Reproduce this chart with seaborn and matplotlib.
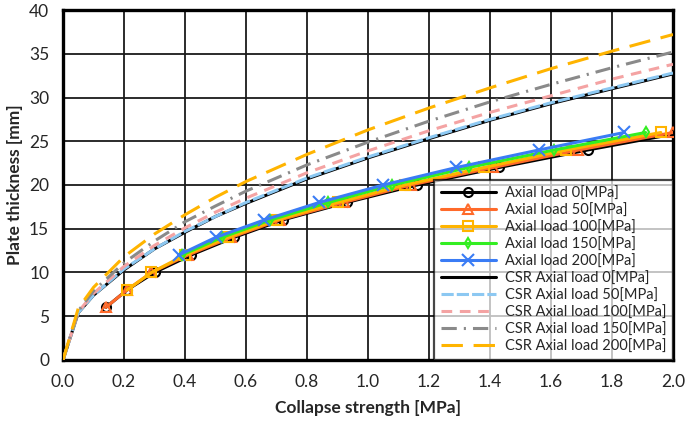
import seaborn as sns
import matplotlib.pyplot as plt
import pandas as pd

# Data ----------------------------

thickness = [6, 8, 10, 12, 14, 16, 18, 20, 22, 24, 26]
strength_0 = [0.14, 0.21, 0.30, 0.42, 0.56, 0.72, 0.93, 1.16, 1.43, 1.72, 2.03]
strength_50 = [0.14, 0.21, 0.29, 0.41, 0.55, 0.71, 0.92, 1.14, 1.41, 1.69, 2.00]
strength_100 = [0.14, 0.21, 0.29, 0.40, 0.54, 0.70, 0.90, 1.12, 1.38, 1.65, 1.96]
strength_150 = [0.13, 0.20, 0.28, 0.39, 0.52, 0.68, 0.87, 1.08, 1.33, 1.61, 1.91]
strength_200 = [0.13, 0.19, 0.27, 0.38, 0.50, 0.66, 0.84, 1.05, 1.29, 1.56, 1.84]
first_point = [0, 0, 1, 3, 3]  # where each marker series starts

csr_strength = [0, 0.05, 0.1, 0.2, 0.3, 0.4, 0.5, 0.6, 0.8, 1.0, 1.2, 1.4, 1.6, 1.8, 2.0]
csr_0 = [0, 5.4, 7.4, 10.3, 12.7, 14.6, 16.4, 17.9, 20.7, 23.1, 25.3, 27.4, 29.3, 31.0, 32.7]
csr_50 = [0, 5.4, 7.4, 10.4, 12.7, 14.7, 16.4, 18.0, 20.8, 23.2, 25.4, 27.5, 29.4, 31.1, 32.8]
csr_100 = [0, 5.5, 7.6, 10.7, 13.1, 15.1, 16.9, 18.5, 21.4, 23.9, 26.2, 28.3, 30.2, 32.1, 33.8]
csr_150 = [0, 5.6, 7.9, 11.1, 13.6, 15.8, 17.6, 19.3, 22.3, 24.9, 27.3, 29.5, 31.5, 33.4, 35.2]
csr_200 = [0, 5.9, 8.3, 11.8, 14.4, 16.6, 18.6, 20.4, 23.5, 26.3, 28.8, 31.1, 33.3, 35.3, 37.2]

loads = [0, 50, 100, 150, 200]

# Styles -----

marker_colors = ["#000000", "#FF6A2A", "#FFB400", "#33EE22", "#3A7CF5"]
marker_shapes = ["o", "^", "s", "d", "x"]
marker_sizes = [6.5, 7.5, 7.5, 5.5, 8]
csr_colors = ["#000000", "#8CC8F2", "#F4A3A3", "#8A8A8A", "#FFB400"]
csr_styles = [
    "-",
    (0, (4, 1)),
    (0, (3.5, 2.5)),
    (0, (5, 2.3, 0.7, 2.3)),
    (0, (7, 3.5)),
]

sns.set_style("white")
plt.rcParams["font.family"] = ["Lato", "DejaVu Sans"]

fig = plt.figure(figsize=(6.85, 4.26), dpi=100)
ax = fig.add_axes([0.092, 0.155, 0.8905, 0.8215])

strengths = [strength_0, strength_50, strength_100, strength_150, strength_200]
for i, load in enumerate(loads):
    start = first_point[i]
    df = pd.DataFrame(
        {"strength": strengths[i][start:], "thickness": thickness[start:]}
    )
    sns.lineplot(
        data=df,
        x="strength",
        y="thickness",
        estimator=None,
        sort=False,
        color=marker_colors[i],
        linewidth=2.2,
        marker=marker_shapes[i],
        markersize=marker_sizes[i],
        markerfacecolor="none" if marker_shapes[i] != "x" else marker_colors[i],
        markeredgecolor=marker_colors[i],
        markeredgewidth=1.5,
        label="Axial load {}[MPa]".format(load),
        ax=ax,
        zorder=3,
    )

csr_values = [csr_0, csr_50, csr_100, csr_150, csr_200]
for i, load in enumerate(loads):
    df = pd.DataFrame({"strength": csr_strength, "thickness": csr_values[i]})
    sns.lineplot(
        data=df,
        x="strength",
        y="thickness",
        estimator=None,
        sort=False,
        color=csr_colors[i],
        linewidth=2.2,
        linestyle=csr_styles[i],
        label="CSR Axial load {}[MPa]".format(load),
        ax=ax,
        zorder=3,
    )

ax.set_xlim(0, 2.0)
ax.set_ylim(0, 40)
ax.set_xticks([i * 0.2 for i in range(11)])
ax.set_yticks(range(0, 41, 5))
ax.set_xticklabels(["{:.1f}".format(i * 0.2) for i in range(11)])
ax.tick_params(labelsize=12.5, length=0, pad=10)
ax.grid(True, color="#1a1a1a", linewidth=1.3, zorder=0)
ax.set_axisbelow(True)
for spine in ax.spines.values():
    spine.set_color("black")
    spine.set_linewidth(2.4)

ax.set_xlabel("Collapse strength [MPa]", fontsize=12.5, fontweight="bold", labelpad=7)
ax.set_ylabel("Plate thickness [mm]", fontsize=12.5, fontweight="bold", labelpad=4)

leg = ax.legend(
    loc="lower right",
    borderaxespad=0,
    fontsize=10.5,
    handlelength=3.8,
    labelspacing=0.2,
    frameon=True,
    fancybox=False,
    framealpha=0.72,
    edgecolor="black",
    borderpad=0.45,
    handletextpad=0.6,
)
leg.get_frame().set_linewidth(1.6)

fig.savefig("out.png", dpi=100)
